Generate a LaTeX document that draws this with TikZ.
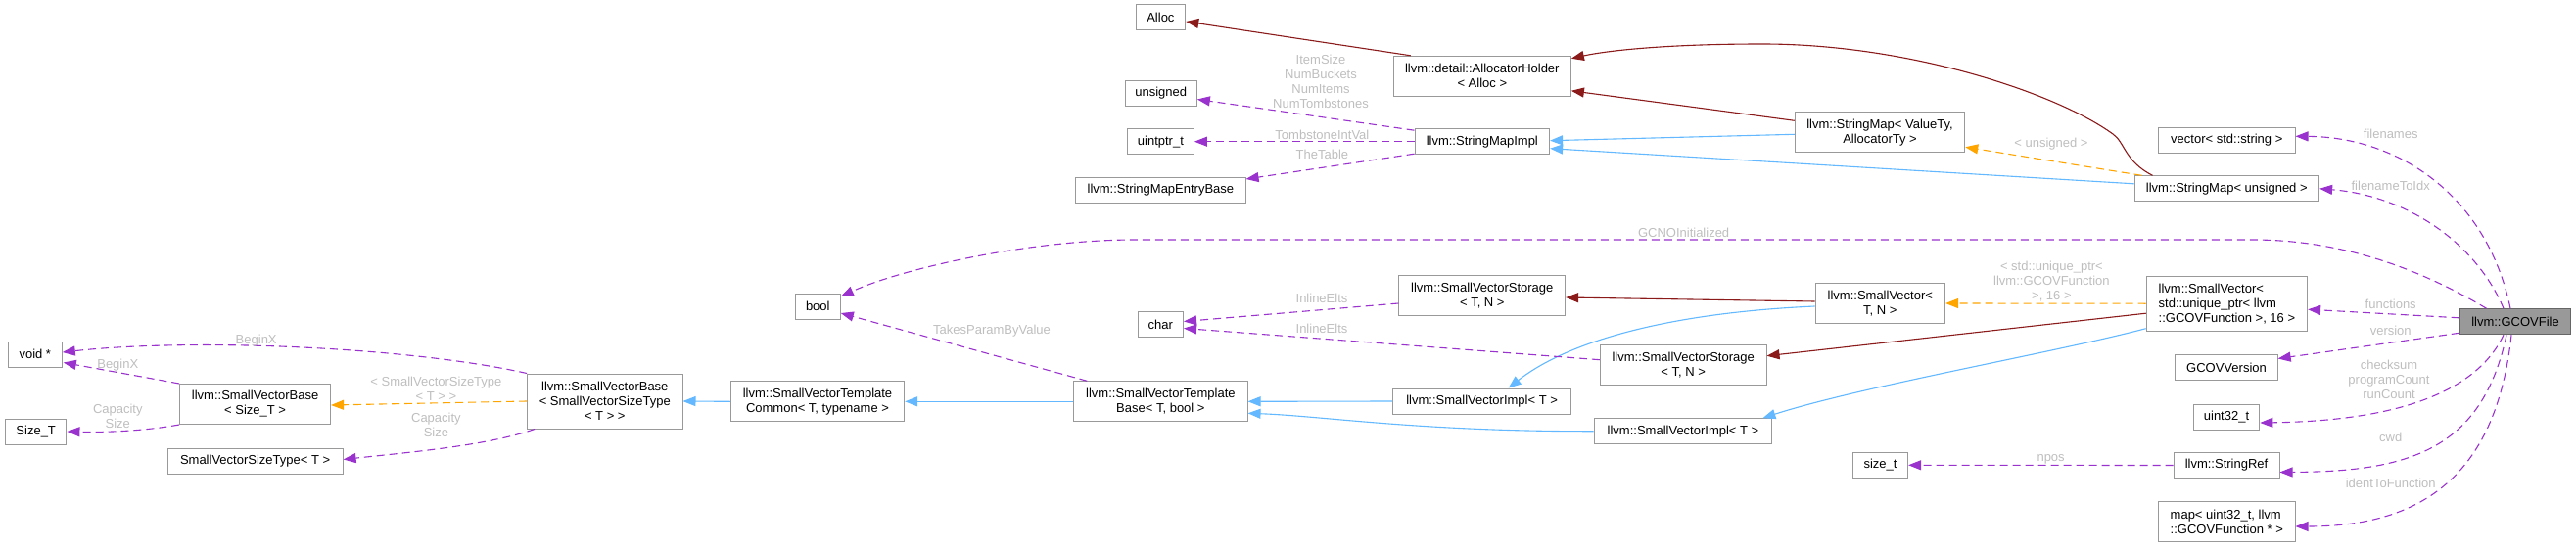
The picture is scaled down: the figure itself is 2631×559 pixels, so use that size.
\documentclass[tikz,border=0pt]{standalone}
\usepackage{fontspec}
\setmainfont{Liberation Sans}
\usetikzlibrary{arrows.meta}
\definecolor{boxgray}{HTML}{999999}
\definecolor{focusline}{HTML}{666666}
\definecolor{usecol}{HTML}{9A32CD}
\definecolor{inhcol}{HTML}{63B8FF}
\definecolor{owncol}{HTML}{8B1A1A}
\definecolor{tplcol}{HTML}{FFA500}
\definecolor{lblgray}{HTML}{BEBEBE}

\begin{document}
\begin{tikzpicture}[x=1pt, y=-1pt,
    cls/.style={draw=boxgray, fill=white, line width=1pt, font=\fontsize{13}{15}\selectfont, align=center, inner xsep=4pt, inner ysep=2pt, minimum height=26pt},
    focus/.style={cls, draw=focusline, fill=boxgray},
    lbl/.style={font=\fontsize{13}{15}\selectfont, text=lblgray, align=center, inner sep=0pt},
    tip/.style={-{Triangle[length=13pt, width=10pt]}},
    uses/.style={tip, draw=usecol, line width=1.1pt, dash pattern=on 8pt off 5pt},
    inherit/.style={tip, draw=inhcol, line width=1.1pt},
    owns/.style={tip, draw=owncol, line width=1.1pt},
    tmpl/.style={tip, draw=tplcol, line width=1.1pt, dash pattern=on 8pt off 5pt},
  ]
  \useasboundingbox (0,0) rectangle (2631,559);

  % SmallVectorBase part
  \node[cls, minimum width=55pt] (voidp) at (35.8,362) {void *};
  \node[cls, minimum width=62.5pt] (sizeT) at (36.7,441) {Size\_T};
  \node[cls, minimum width=154pt, minimum height=41pt] (svbSize) at (260.6,413) {llvm::SmallVectorBase\\< Size\_T >};
  \node[cls, minimum width=179pt] (svst) at (260.6,471.5) {SmallVectorSizeType< T >};
  \node[cls, minimum width=158.4pt, minimum height=56pt] (svbBase) at (617.8,410) {llvm::SmallVectorBase\\< SmallVectorSizeType\\< T > >};

  % Template bases
  \node[cls, minimum width=46pt] (boolT) at (835.3,313) {bool};
  \node[cls, minimum width=177.4pt, minimum height=41pt] (svtCommon) at (835,410.3) {llvm::SmallVectorTemplate\\Common< T, typename >};
  \node[cls, minimum width=177.3pt, minimum height=41pt] (svtBase) at (1185.4,410.3) {llvm::SmallVectorTemplate\\Base< T, bool >};
  \node[cls, minimum width=46.6pt] (charT) at (1185.3,331.5) {char};

  % StringMap part
  \node[cls, minimum width=50.7pt] (alloc) at (1185.4,18) {Alloc};
  \node[cls, minimum width=73.3pt] (unsignedT) at (1185.7,95.5) {unsigned};
  \node[cls, minimum width=68pt] (uintptrT) at (1185.4,144.7) {uintptr\_t};
  \node[cls, minimum width=173.3pt] (smEntry) at (1185.4,194) {llvm::StringMapEntryBase};
  \node[cls, minimum width=181.2pt, minimum height=41pt] (allocHolder) at (1513.8,77.8) {llvm::detail::AllocatorHolder\\< Alloc >};
  \node[cls, minimum width=137.6pt] (smImpl) at (1513.8,144.7) {llvm::StringMapImpl};
  \node[cls, minimum width=173.5pt, minimum height=41pt] (stringMap) at (1920,135.3) {llvm::StringMap< ValueTy,\\AllocatorTy >};

  % SmallVector part
  \node[cls, minimum width=169.7pt, minimum height=41pt] (svStorage) at (1513.8,302) {llvm::SmallVectorStorage\\< T, N >};
  \node[cls, minimum width=181.6pt] (svImpl) at (1513.6,410) {llvm::SmallVectorImpl< T >};
  \node[cls, minimum width=169.6pt, minimum height=41pt] (svStorageB) at (1719.2,372.7) {llvm::SmallVectorStorage\\< T, N >};
  \node[cls, minimum width=181.8pt] (svImplB) at (1719,440.7) {llvm::SmallVectorImpl< T >};
  \node[cls, minimum width=132.6pt, minimum height=41pt] (smallVector) at (1920.3,310) {llvm::SmallVector<\\T, N >};
  \node[cls, minimum width=56.2pt] (sizet) at (1920.5,475.3) {size\_t};

  % Members of GCOVFile
  \node[cls, minimum width=139.4pt] (vecString) at (2274.3,143.3) {vector< std::string >};
  \node[cls, minimum width=188.6pt] (smUnsigned) at (2274.3,192.8) {llvm::StringMap< unsigned >};
  \node[cls, align=left, minimum width=164.4pt, minimum height=56pt] (svFunctions) at (2274.4,310.2) {llvm::SmallVector<\\ std::unique\_ptr< llvm\\::GCOVFunction >, 16 >};
  \node[cls, minimum width=104.3pt] (gcovVersion) at (2274,375.5) {GCOVVersion};
  \node[cls, minimum width=67.7pt] (uint32T) at (2274,426) {uint32\_t};
  \node[cls, minimum width=108pt] (stringRef) at (2274,475.5) {llvm::StringRef};
  \node[cls, align=left, minimum width=139.4pt, minimum height=41pt] (identMap) at (2274.3,533) {map< uint32\_t, llvm\\::GCOVFunction * >};
  \node[focus, minimum width=113.7pt] (gcovFile) at (2569,328.8) {llvm::GCOVFile};

  % Edges of GCOVFile
  \draw[uses] ([xshift=-5pt]gcovFile.north) .. controls (2540,200) and (2450,140) .. ([yshift=4pt]vecString.east);
  \draw[uses] ([xshift=-12pt]gcovFile.north) .. controls (2530,250) and (2460,200) .. (smUnsigned.east);
  \draw[uses] ([xshift=28pt]gcovFile.north west) .. controls (2480,280) and (2400,245) .. (2300,245) -- (1160,245) .. controls (1050,245) and (920,275) .. ([yshift=10pt]boolT.east);
  \draw[uses] ([yshift=4pt]gcovFile.west) -- ([yshift=-6pt]svFunctions.east);
  \draw[uses] ([yshift=2pt]gcovFile.south west) -- ([yshift=9pt]gcovVersion.east);
  \draw[uses] ([xshift=-12pt]gcovFile.south) .. controls (2530,400) and (2450,430) .. ([yshift=-6pt]uint32T.east);
  \draw[uses] ([xshift=-9pt]gcovFile.south) .. controls (2535,460) and (2460,482) .. ([yshift=-7pt]stringRef.east);
  \draw[uses] ([xshift=-4pt]gcovFile.south) .. controls (2550,480) and (2480,538) .. ([yshift=-5pt]identMap.east);

  % StringMap edges
  \draw[owns] ([xshift=18pt]allocHolder.north west) -- ([yshift=-4pt]alloc.east);
  \draw[owns] ([yshift=12pt]stringMap.west) -- ([yshift=-15pt]allocHolder.east);
  \draw[owns] ([xshift=19pt]smUnsigned.north west) .. controls (2170,165) and (2170,145) .. (2158,137) .. controls (2100,95) and (1950,45) .. (1800,45) .. controls (1700,45) and (1640,52) .. ([yshift=18pt]allocHolder.east);
  \draw[uses] ([yshift=-2pt]smImpl.north west) -- ([yshift=-6pt]unsignedT.east);
  \draw[uses] (smImpl.west) -- (uintptrT.east);
  \draw[uses] ([yshift=1pt]smImpl.south west) -- ([yshift=11pt]smEntry.east);
  \draw[inherit] ([yshift=-2pt]stringMap.west) -- ([yshift=1pt]smImpl.east);
  \draw[inherit] ([yshift=5pt]smUnsigned.west) -- ([yshift=-7pt]smImpl.east);
  \draw[tmpl] ([xshift=8pt]smUnsigned.north west) -- ([yshift=6pt]stringMap.south east);

  % SmallVector edges
  \draw[tmpl] (svFunctions.west) -- (smallVector.east);
  \draw[owns] ([yshift=-10pt]svFunctions.west) -- ([yshift=9pt]svStorageB.east);
  \draw[inherit] ([yshift=3pt]svFunctions.south west) .. controls (2100,360) and (1900,395) .. ([xshift=-10pt]svImplB.north east);
  \draw[owns] ([yshift=2pt]smallVector.west) -- ([yshift=-2pt]svStorage.east);
  \draw[inherit] ([yshift=-3pt]smallVector.west) .. controls (1700,320) and (1600,350) .. ([xshift=27pt]svImpl.north);
  \draw[uses] ([yshift=-8pt]svStorage.west) -- ([yshift=3pt]charT.east);
  \draw[uses] ([yshift=5pt]svStorageB.west) -- ([yshift=-4pt]charT.east);
  \draw[inherit] (svImpl.west) -- (svtBase.east);
  \draw[inherit] (svImplB.west) .. controls (1450,441) and (1350,425) .. ([yshift=-12pt]svtBase.east);
  \draw[uses] ([xshift=14pt]svtBase.north west) -- ([yshift=-7pt]boolT.east);
  \draw[inherit] (svtBase.west) -- (svtCommon.east);
  \draw[inherit] (svtCommon.west) -- (svbBase.east);
  \draw[uses] (svbBase.north west) .. controls (420,355) and (200,345) .. ([yshift=2pt]voidp.east);
  \draw[uses] (svbSize.north west) -- ([xshift=1pt,yshift=5pt]voidp.south east);
  \draw[uses] (svbSize.south west) .. controls (150,440) and (110,442) .. (sizeT.east);
  \draw[tmpl] (svbBase.west) -- ([yshift=-1pt]svbSize.east);
  \draw[uses] ([xshift=8pt]svbBase.south west) .. controls (500,455) and (420,462) .. ([yshift=2pt]svst.east);
  \draw[uses] (stringRef.west) -- (sizet.east);

  % Edge labels
  \node[lbl] (lblBeginXa) at (261.7,348.3) {BeginX};
  \node[lbl] (lblBeginXb) at (120.3,372.7) {BeginX};
  \node[lbl] (lblCapA) at (120.3,425) {Capacity\\Size};
  \node[lbl] (lblSVST) at (445.4,397.2) {< SmallVectorSizeType\\< T > >};
  \node[lbl] (lblCapB) at (445.4,434.2) {Capacity\\Size};
  \node[lbl] (lblTakes) at (1013,337.7) {TakesParamByValue};
  \node[lbl] (lblItems) at (1349,83.2) {ItemSize\\NumBuckets\\NumItems\\NumTombstones};
  \node[lbl] (lblTombstone) at (1350.4,137.7) {TombstoneIntVal};
  \node[lbl] (lblTable) at (1350.4,158.3) {TheTable};
  \node[lbl] (lblGCNO) at (1719.6,237.7) {GCNOInitialized};
  \node[lbl] (lblInlineA) at (1350,305.3) {InlineElts};
  \node[lbl] (lblInlineB) at (1350,336.3) {InlineElts};
  \node[lbl] (lblUnsigned) at (2095,146.7) {< unsigned >};
  \node[lbl] (lblUnique) at (2095.4,287.7) {< std::unique\_ptr<\\llvm::GCOVFunction\\>, 16 >};
  \node[lbl] (lblNpos) at (2094.6,469) {npos};
  \node[lbl] (lblFilenames) at (2441.7,136.7) {filenames};
  \node[lbl] (lblFileIdx) at (2441.7,189.7) {filenameToIdx};
  \node[lbl] (lblFunctions) at (2441.7,310.7) {functions};
  \node[lbl] (lblVersion) at (2441.7,337.7) {version};
  \node[lbl] (lblChecksum) at (2440,387.7) {checksum\\programCount\\runCount};
  \node[lbl] (lblCwd) at (2441.7,446.7) {cwd};
  \node[lbl] (lblIdent) at (2441.7,494.3) {identToFunction};
\end{tikzpicture}
\end{document}
